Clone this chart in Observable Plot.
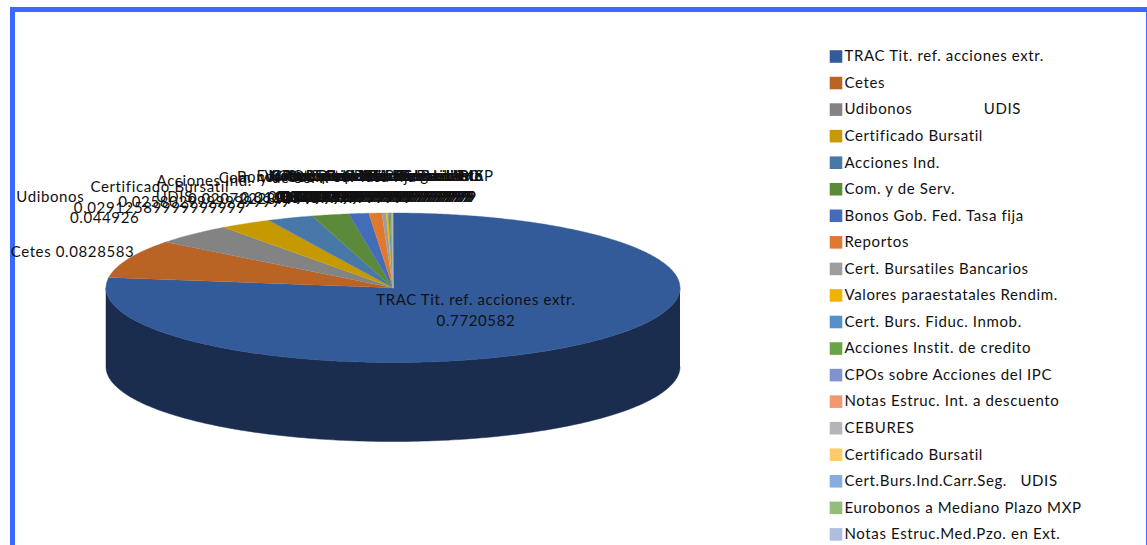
<!DOCTYPE html>
<html><head><meta charset="utf-8">
<script src="https://cdn.jsdelivr.net/npm/d3@7"></script>
<script src="https://cdn.jsdelivr.net/npm/@observablehq/plot@0.6"></script>
<style>
html,body{margin:0;padding:0;background:#fff;overflow:hidden}
#frame{position:absolute;left:10px;top:7px;width:1137px;height:600px;box-sizing:border-box;border:5px solid #3a69ff;border-right-width:1.5px;pointer-events:none}
#chart{position:absolute;left:0;top:0}
</style></head>
<body><div id="frame"></div><div id="chart"></div>
<script>
const categories = [
  "TRAC Tit. ref. acciones extr.","Cetes","Udibonos                UDIS","Certificado Bursatil",
  "Acciones Ind.","Com. y de Serv.","Bonos Gob. Fed. Tasa fija","Reportos",
  "Cert. Bursatiles Bancarios","Valores paraestatales Rendim.","Cert. Burs. Fiduc. Inmob.",
  "Acciones Instit. de credito","CPOs sobre Acciones del IPC","Notas Estruc. Int. a descuento",
  "CEBURES","Certificado Bursatil","Cert.Burs.Ind.Carr.Seg.   UDIS",
  "Eurobonos a Mediano Plazo MXP","Notas Estruc.Med.Pzo. en Ext."
];
const values = [
  0.7720582,0.0828583,0.044926,0.02912589999999999,0.02580299999999999,0.02072228999999999,
  0.01125489999999999,0.007219399999999999,0.002431999999999999,0.001198999999999999,0.0008129999999999999,
  0.0005939999999999999,0.0004189999999999999,0.0002919999999999999,0.0001919999999999999,0.0001189999999999999,
  0.00007299999999999999,0.00004899999999999999,0.00002399999999999999
];
const colors = [
  "#335b9a","#b96324","#838383","#c79900","#4878a8","#5a8a3a","#436cb9","#e07830",
  "#9e9e9e","#f0b400","#5590c8","#68a345","#7e93cf","#f09870","#b5b5b5","#ffca6e",
  "#85aede","#92bd78","#b1bde0"
];
const wallColor = "#1a2d4e";

const FONT = "15px Lato";
const LS = 0.62;
const ctx = document.createElement("canvas").getContext("2d");
ctx.font = FONT;
const textW = s => ctx.measureText(s).width + LS * s.length;

const RX = 287, RY = 74.75, DEPTH = 79 / RY;   // px per pie radius, wall depth in radii
const total = d3.sum(values);
const at = (t, r = 1) => ({x: r * Math.sin(t), y: r * Math.cos(t)});

// top-surface polygons, one per slice
let acc = 0;
const slices = [], labels = [];
values.forEach((v, i) => {
  const a0 = acc / total * 2 * Math.PI, a1 = (acc + v) / total * 2 * Math.PI;
  acc += v;
  const n = Math.max(2, Math.ceil((a1 - a0) / 0.01));
  const add = p => slices.push({k: i, x: p.x, y: p.y, c: colors[i]});
  add({x: 0, y: 0});
  d3.range(n + 1).forEach(j => add(at(a0 + (a1 - a0) * j / n)));
  const mid = (a0 + a1) / 2, p = at(mid), name = categories[i];
  const oneLine = (name + " " + v).length <= 20;
  const text = oneLine ? name + " " + v : name + "\n" + v;
  if (v / total > 0.5) {
    const q = at(mid, 0.44);
    labels.push({text, x: q.x, y: q.y + 4 / RY, anchor: "middle"});
  } else {
    const hw = d3.max(text.split("\n"), textW) / 2;
    const f = Math.max(0.15, Math.min(1, 3 * Math.abs(p.x)));
    labels.push({
      text, x: p.x + Math.sign(p.x) * f * hw / RX + (oneLine ? 6 / RX : 0),
      y: p.y + (oneLine ? 2 : 11) / RY, anchor: "bottom"
    });
  }
});

// front wall of the cylinder
const wall = [];
d3.range(0, 181).forEach(d => wall.push(at(Math.PI / 2 + d * Math.PI / 180)));
d3.range(180, -1, -1).forEach(d => {
  const p = at(Math.PI / 2 + d * Math.PI / 180);
  wall.push({x: p.x, y: p.y - DEPTH});
});

const plot = Plot.plot({
  width: 1147, height: 545, margin: 0,
  x: {domain: [-1, 1], range: [105.5, 679.5], axis: null},
  y: {domain: [-1, 1], range: [362, 212.5], axis: null},
  style: {background: "transparent", fontFamily: "Lato", fontSize: "15px", color: "#111", whiteSpace: "pre", letterSpacing: LS + "px"},
  marks: [
    Plot.line(wall, {x: "x", y: "y", fill: wallColor, stroke: wallColor, strokeWidth: 0.5}),
    Plot.line(slices, {x: "x", y: "y", z: "k", fill: "c", stroke: "c", strokeWidth: 0.4}),
    ...["middle", "bottom"].map(a => Plot.text(labels.filter(d => d.anchor === a), {
      x: "x", y: "y", text: "text", lineAnchor: a, lineHeight: 1.4, textAnchor: "middle",
      fill: "#111", fontSize: 15
    })),
    ...categories.flatMap((c, i) => [
      Plot.dot([c], {frameAnchor: "top-left", dx: 835.5, dy: 56 + i * 26.55, symbol: "square", r: 7.1, fill: colors[i]}),
      Plot.text([c], {frameAnchor: "top-left", dx: 844, dy: 56 + i * 26.55, text: d => d, textAnchor: "start", lineAnchor: "middle", fill: "#111", fontSize: 15})
    ])
  ]
});
document.getElementById("chart").appendChild(plot);
</script>
</body></html>
